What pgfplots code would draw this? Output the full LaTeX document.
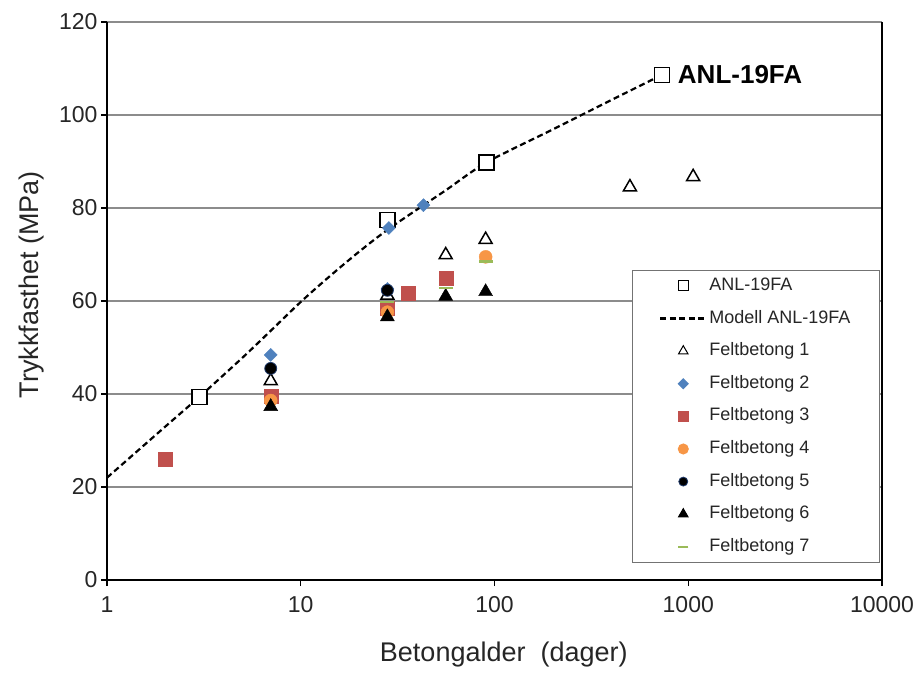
\documentclass[border=0pt]{standalone}
\usepackage{fontspec}
\setmainfont{Liberation Sans}
\usepackage{pgfplots}
\pgfplotsset{compat=1.18}

\definecolor{f2blue}{HTML}{4F81BD}
\definecolor{f3red}{HTML}{C0504D}
\definecolor{f4orange}{HTML}{F79646}
\definecolor{f5edge}{HTML}{1F3A6B}
\definecolor{f7green}{HTML}{9BBB59}
\definecolor{gridgray}{RGB}{140,140,140}

\begin{document}
\begin{tikzpicture}[x=1pt,y=1pt]
\path[use as bounding box] (-107,-93) rectangle (808,580);
\begin{axis}[
  at={(0pt,0pt)}, anchor=south west,
  width=775pt, height=558pt, scale only axis,
  xmode=log, xmin=1, xmax=10000,
  ymin=0, ymax=120,
  xtick={1,10,100,1000,10000},
  xticklabels={1,10,100,1000,10000},
  xminorticks=false,
  ytick={0,20,...,120},
  axis x line*=bottom, axis y line*=left,
  axis line style={black, line width=2pt},
  ymajorgrids,
  major grid style={gridgray, line width=1.3pt},
  tick align=outside, major tick length=6pt,
  tick style={black, line width=1.2pt},
  /pgf/number format/assume math mode=true,
  ticklabel style={font=\fontsize{23}{27}\selectfont, text=black!85},
  xticklabel style={yshift=-7pt},
  label style={font=\fontsize{27}{32}\selectfont, text=black!85},
  xlabel={Betongalder\ \ (dager)},
  ylabel={Trykkfasthet (MPa)},
  xlabel style={at={(axis description cs:0.512,-0.134)}, anchor=center},
  ylabel style={at={(axis description cs:-0.097,0.529)}, anchor=center},
  legend cell align=left,
  legend image code/.code={\draw[mark repeat=2,mark phase=2,#1] plot coordinates {(0pt,0pt) (23pt,0pt) (46pt,0pt)};},
  legend style={
    at={(axis description cs:0.677,0.5556)}, anchor=north west,
    draw=black!55, line width=1pt, fill=white,
    font=\fontsize{18}{21}\selectfont, text=black!85,
    inner xsep=27pt, inner ysep=5pt,
    row sep=11.6pt,
    nodes={inner sep=2pt, text height=13pt, text depth=4pt},
  },
  clip=false,
]
% right border of the plot area
\draw[black, line width=2pt] (rel axis cs:1,0) -- (rel axis cs:1,1);

% strength model for the reference concrete
\addplot[forget plot, black, line width=2.2pt, dash pattern=on 6pt off 3.5pt,
  smooth, tension=0.5]
  coordinates {(1,22) (2,33) (3,39.4) (5,47.8) (7,53.6) (10,59.8) (14,65.2)
               (20,70.6) (28,75.3) (43,80.6) (56,83.8) (91,89.8) (200,96.9)
               (400,103.2) (730,108.6)};

% measured reference concrete
\addplot[forget plot, only marks, mark=square*, mark size=7.5pt,
  mark options={draw=black, fill=white, line width=1.5pt}]
  coordinates {(3,39.4) (28,77.4) (91,89.8) (730,108.6)};

% field concretes 1-7
\addplot[forget plot, only marks, mark=triangle*, mark size=7.5pt,
  mark options={draw=black, fill=white, line width=1.5pt}]
  coordinates {(7,42.8) (28,61.2) (56,69.9) (90,73.2) (500,84.5) (1060,86.7)};
\addplot[forget plot, only marks, mark=square*, mark size=4.6pt,
  mark options={draw=f2blue, fill=f2blue, rotate=45}]
  coordinates {(7,48.4) (28,62.6) (28.5,75.7) (43,80.6)};
\addplot[forget plot, only marks, mark=square*, mark size=7pt,
  mark options={draw=f3red, fill=f3red}]
  coordinates {(2,26) (7,39.5) (28,58.4) (36,61.6) (56,65)};
\addplot[forget plot, only marks, mark=*, mark size=6.5pt,
  mark options={draw=f4orange, fill=f4orange}]
  coordinates {(7,38.6) (28,57.6) (90,69.5)};
\addplot[forget plot, only marks, mark=*, mark size=6pt,
  mark options={draw=f5edge, fill=black, line width=0.8pt}]
  coordinates {(7,45.5) (28,62.3)};
\addplot[forget plot, only marks, mark=triangle*, mark size=8pt,
  mark options={draw=black, fill=black}]
  coordinates {(7,37.3) (28,56.6) (56,61) (90,62)};
\addplot[forget plot, only marks, mark=-, mark size=7pt,
  mark options={draw=f7green, line width=2.5pt}]
  coordinates {(28,59.8) (56,62.8) (90,68.5)};

\node[anchor=west, inner sep=0pt, font=\bfseries\fontsize{26}{30}\selectfont]
  at (axis cs:730,108.6) [xshift=16pt] {ANL-19FA};

% legend entries
\addlegendimage{only marks, mark=square*, mark size=5pt, mark options={draw=black, fill=white, line width=1pt}}
\addlegendentry{ANL-19FA}
\addlegendimage{black, line width=2.2pt, dash pattern=on 6pt off 3.5pt}
\addlegendentry{Modell ANL-19FA}
\addlegendimage{only marks, mark=triangle*, mark size=5.5pt, mark options={draw=black, fill=white, line width=1pt}}
\addlegendentry{Feltbetong 1}
\addlegendimage{only marks, mark=square*, mark size=3.5pt, mark options={draw=f2blue, fill=f2blue, rotate=45}}
\addlegendentry{Feltbetong 2}
\addlegendimage{only marks, mark=square*, mark size=5pt, mark options={draw=f3red, fill=f3red}}
\addlegendentry{Feltbetong 3}
\addlegendimage{only marks, mark=*, mark size=5pt, mark options={draw=f4orange, fill=f4orange}}
\addlegendentry{Feltbetong 4}
\addlegendimage{only marks, mark=*, mark size=4.5pt, mark options={draw=f5edge, fill=black, line width=0.8pt}}
\addlegendentry{Feltbetong 5}
\addlegendimage{only marks, mark=triangle*, mark size=5.5pt, mark options={draw=black, fill=black}}
\addlegendentry{Feltbetong 6}
\addlegendimage{only marks, mark=-, mark size=5pt, mark options={draw=f7green, line width=1.5pt}}
\addlegendentry{Feltbetong 7}
\end{axis}
\end{tikzpicture}
\end{document}
